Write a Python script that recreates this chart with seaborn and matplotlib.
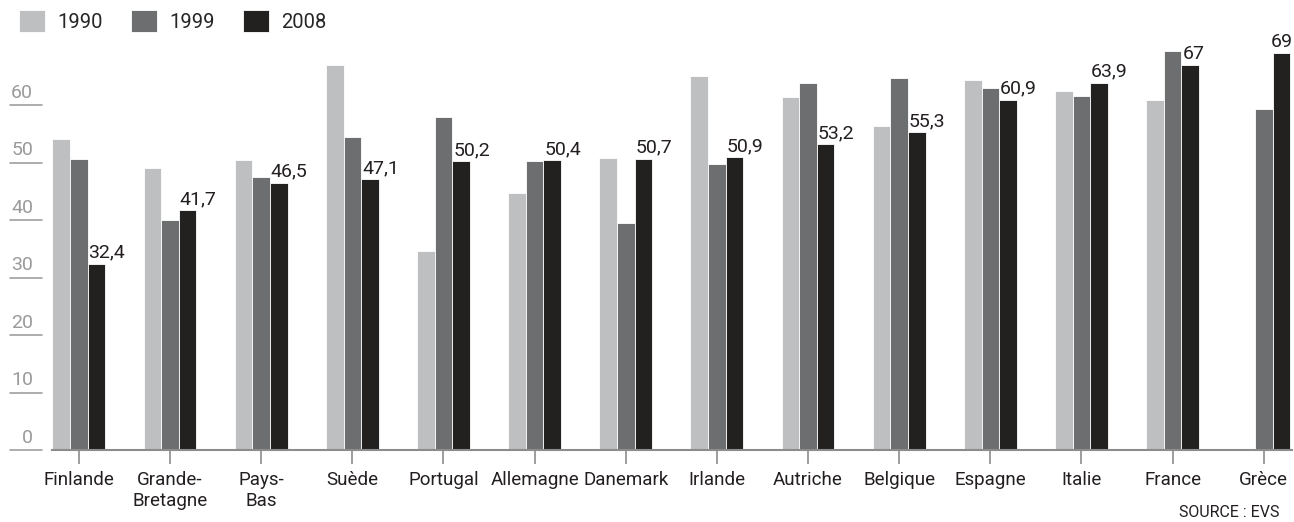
import numpy as np
import pandas as pd
import seaborn as sns
import matplotlib.pyplot as plt
from matplotlib.transforms import blended_transform_factory

# données
pays = ["Finlande", "Grande-\nBretagne", "Pays-\nBas", "Suède", "Portugal", "Allemagne",
        "Danemark", "Irlande", "Autriche", "Belgique", "Espagne", "Italie", "France", "Grèce"]
annees = ["1990", "1999", "2008"]
v1990 = [54.1, 49.0, 50.4, 67.0, 34.7, 44.8, 50.8, 65.0, 61.5, 56.4, 64.4, 62.5, 60.9, np.nan]
v1999 = [50.7, 40.0, 47.5, 54.5, 57.9, 50.3, 39.5, 49.7, 63.8, 64.8, 63.0, 61.6, 69.5, 59.3]
v2008 = [32.4, 41.7, 46.5, 47.1, 50.2, 50.4, 50.7, 50.9, 53.2, 55.3, 60.9, 63.9, 67, 69]
yticks = [0, 10, 20, 30, 40, 50, 60]
couleurs = ["#bdbfc1", "#6d6e70", "#231f20"]

df = pd.DataFrame({"pays": pays, "1990": v1990, "1999": v1999, "2008": v2008})
df = df.melt(id_vars="pays", var_name="annee", value_name="valeur").dropna()

sns.set_style("white")
plt.rcParams['font.family'] = ['Roboto', 'DejaVu Sans']

W, H = 1294, 522
fig = plt.figure(figsize=(W / 100, H / 100), dpi=100)
ax = fig.add_axes([52 / W, 72 / H, 1240 / W, 450 / H])

sns.barplot(data=df, x="pays", y="valeur", hue="annee", order=pays, hue_order=annees,
            palette=couleurs, width=0.58, errorbar=None, edgecolor="white",
            linewidth=0.6, ax=ax)

ax.set_xlim(-0.295, 13.31)
ax.set_ylim(0, 78.3)
ax.set_xlabel("")
ax.set_ylabel("")
for s in ["top", "right", "left"]:
    ax.spines[s].set_visible(False)
ax.spines["bottom"].set_color("#8c8c8c")
ax.spines["bottom"].set_linewidth(1.5)
ax.set_yticks([])
ax.tick_params(axis="x", direction="out", length=10, width=1.2, color="#8c8c8c",
               labelsize=13.5, pad=5, bottom=True, labelcolor="#231f20")

# graduations soulignées à gauche
tr = blended_transform_factory(fig.transFigure, ax.transData)
for t in yticks:
    ax.text(33 / W, t + 0.6, str(t), transform=tr, ha="right", va="bottom",
            fontsize=14, color="#9a9a9a")
    ax.plot([10 / W, 42 / W], [t, t], transform=tr, color="#a0a0a0", lw=1.2,
            clip_on=False)

# étiquettes des valeurs 2008
for i, bar in enumerate(ax.containers[2]):
    txt = f"{v2008[i]:g}".replace(".", ",")
    if i == len(v2008) - 1:
        ax.text(bar.get_x() + bar.get_width() / 2, bar.get_height() + 0.4, txt,
                ha="center", va="bottom", fontsize=14, color="#231f20")
    else:
        ax.text(bar.get_x() + 0.01, bar.get_height() + 0.4, txt,
                ha="left", va="bottom", fontsize=14, color="#231f20")

handles, labels = ax.get_legend_handles_labels()
ax.get_legend().remove()
fig.legend(handles, labels, loc="upper left", bbox_to_anchor=(19 / W, 1 - 10 / H),
           ncol=3, frameon=False, fontsize=14.5, handlelength=1.3, handleheight=1.3,
           handletextpad=0.6, columnspacing=1.4, borderpad=0, borderaxespad=0)

fig.text(1279 / W, 2 / H, "SOURCE : EVS", ha="right", va="bottom", fontsize=11.5,
         color="#231f20")

fig.savefig("out.png", dpi=100)
